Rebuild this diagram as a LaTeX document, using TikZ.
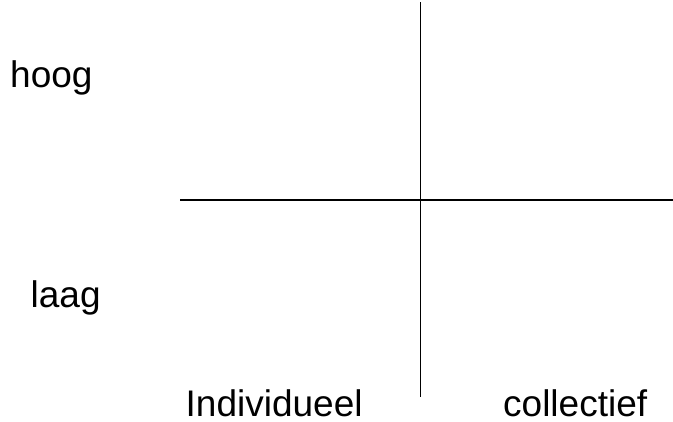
\documentclass[tikz,border=0pt]{standalone}
\usepackage{fontspec}
\setmainfont{Liberation Sans}
\begin{document}
\begin{tikzpicture}[x=1pt,y=-1pt,
  axis/.style={line width=1.8pt,black},
  lbl/.style={anchor=base west,inner sep=0pt,font=\fontsize{37}{40}\selectfont}]
\useasboundingbox (0,0) rectangle (673,421);
\coordinate (vtop) at (420.5,2);
\coordinate (vbot) at (420.5,397);
\coordinate (hl) at (180,200);
\coordinate (hr) at (673,200);
\draw[axis] (vtop) -- (vbot);
\draw[axis] (hl) -- (hr);
\node[lbl] (hoog) at (10,87) {hoog};
\node[lbl] (laag) at (30.5,307) {laag};
\node[lbl] (ind) at (185.5,416) {Individueel};
\node[lbl] (col) at (503,416) {collectief};
\end{tikzpicture}
\end{document}
